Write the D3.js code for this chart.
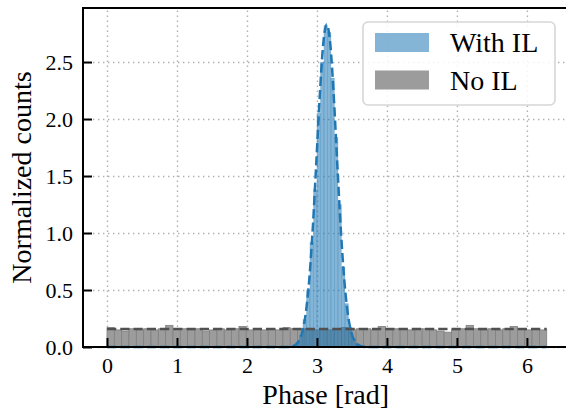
<!DOCTYPE html>
<meta charset="utf-8">
<script src="https://d3js.org/d3.v7.min.js"></script>
<style>
  body { margin: 0; background: #fff; }
  text { font-family: "Liberation Serif", serif; fill: #000; }
  .grid line { stroke: #b0b0b0; stroke-width: 1.4; stroke-dasharray: 1.4, 3.6; }
  .grid path { display: none; }
  .axis path { display: none; }
  .axis line { stroke: #000; stroke-width: 2; }
</style>
<body>
<div id="chart"></div>
<script>
// gray histogram ("No IL"), 60 bins over [0, 2pi]
var grayCounts = [
  0.17, 0.15, 0.14, 0.16, 0.15, 0.16, 0.15, 0.16, 0.19, 0.16,
  0.16, 0.15, 0.16, 0.14, 0.15, 0.16, 0.15, 0.16, 0.18, 0.15,
  0.16, 0.15, 0.16, 0.15, 0.17, 0.16, 0.15, 0.16, 0.15, 0.16,
  0.15, 0.16, 0.17, 0.15, 0.16, 0.16, 0.15, 0.18, 0.15, 0.16,
  0.16, 0.15, 0.16, 0.16, 0.15, 0.14, 0.13, 0.15, 0.16, 0.19,
  0.16, 0.15, 0.16, 0.15, 0.16, 0.18, 0.16, 0.15, 0.16, 0.15
];
var grayRange = [0, 2 * Math.PI];

// blue histogram ("With IL")
var blueStart = 2.70, blueWidth = 0.05;
var blueCounts = [0.04, 0.10, 0.24, 0.50, 0.92, 1.38, 2.05, 2.50, 2.82, 2.76,
                  2.36, 1.84, 1.25, 0.70, 0.38, 0.17, 0.07, 0.03];

// dashed curves
var uniformLevel = 0.159;
var curvePhase = [0, 2.59, 2.64, 2.69, 2.74, 2.79, 2.84, 2.89, 2.94, 2.99, 3.04, 3.09, 3.14,
                  3.19, 3.24, 3.29, 3.34, 3.39, 3.44, 3.49, 3.54, 3.59, 3.64, 3.69, 6.283];
var curveValue = [0, 0.001, 0.005, 0.017, 0.051, 0.130, 0.295, 0.59, 1.04, 1.61, 2.20, 2.66, 2.83,
                  2.66, 2.20, 1.61, 1.04, 0.59, 0.295, 0.130, 0.051, 0.017, 0.005, 0.001, 0];

var xTicks = [0, 1, 2, 3, 4, 5, 6];
var yTicks = [0, 0.5, 1.0, 1.5, 2.0, 2.5];

var W = 566, H = 412;
var pL = 83, pR = 571, pT = 8, pB = 347;

var svg = d3.select("#chart").append("svg")
  .attr("width", W).attr("height", H);

var x = d3.scaleLinear().domain([-0.343, 6.63]).range([pL, pR]);
var y = d3.scaleLinear().domain([0, 2.974]).range([pB, pT]);

// grid
svg.append("g").attr("class", "grid")
  .attr("transform", "translate(0," + pB + ")")
  .call(d3.axisBottom(x).tickValues(xTicks).tickSize(-(pB - pT)).tickFormat(""));
svg.append("g").attr("class", "grid")
  .attr("transform", "translate(" + pL + ",0)")
  .call(d3.axisLeft(y).tickValues(yTicks).tickSize(-(pR - pL)).tickFormat(""));

// gray bars
var gw = (grayRange[1] - grayRange[0]) / grayCounts.length;
svg.append("g").selectAll("rect")
  .data(grayCounts)
  .enter().append("rect")
  .attr("x", function(d, i) { return x(grayRange[0] + i * gw); })
  .attr("width", function(d, i) { return x(grayRange[0] + (i + 1) * gw) - x(grayRange[0] + i * gw); })
  .attr("y", function(d) { return y(d); })
  .attr("height", function(d) { return pB - y(d); })
  .attr("fill", "#9c9c9c")
  .attr("stroke", "#808080")
  .attr("stroke-width", 0.8);

// blue bars
svg.append("g").selectAll("rect")
  .data(blueCounts)
  .enter().append("rect")
  .attr("x", function(d, i) { return x(blueStart + i * blueWidth); })
  .attr("width", function(d, i) { return x(blueStart + (i + 1) * blueWidth) - x(blueStart + i * blueWidth); })
  .attr("y", function(d) { return y(d); })
  .attr("height", function(d) { return pB - y(d); })
  .attr("fill", "#1f77b4")
  .attr("fill-opacity", 0.55)
  .attr("stroke", "#1f77b4")
  .attr("stroke-opacity", 0.35)
  .attr("stroke-width", 0.5);

// uniform dashed line
svg.append("path")
  .datum(grayRange)
  .attr("d", d3.line().x(function(d) { return x(d); }).y(function() { return y(uniformLevel); }))
  .attr("fill", "none")
  .attr("stroke", "#505050")
  .attr("stroke-width", 2.5)
  .attr("stroke-dasharray", "9.25,4");

// peak dashed curve
var pts = curvePhase.map(function(p, i) { return [p, curveValue[i]]; });
svg.append("path")
  .datum(pts)
  .attr("d", d3.line().x(function(d) { return x(d[0]); }).y(function(d) { return y(d[1]); })
    .curve(d3.curveMonotoneX))
  .attr("fill", "none")
  .attr("stroke", "#1f77b4")
  .attr("stroke-width", 2.5)
  .attr("stroke-dasharray", "9.25,4");

// axes (inward ticks)
var xa = svg.append("g").attr("class", "axis")
  .attr("transform", "translate(0," + pB + ")")
  .call(d3.axisBottom(x).tickValues(xTicks).tickSizeInner(-9).tickSizeOuter(0).tickPadding(10)
    .tickFormat(d3.format("d")));
xa.selectAll("text").style("font-size", "22px").style("font-family", "Liberation Serif").attr("fill", "#000");

var ya = svg.append("g").attr("class", "axis")
  .attr("transform", "translate(" + pL + ",0)")
  .call(d3.axisLeft(y).tickValues(yTicks).tickSizeInner(-9).tickSizeOuter(0).tickPadding(10)
    .tickFormat(d3.format(".1f")));
ya.selectAll("text").style("font-size", "22px").style("font-family", "Liberation Serif").attr("fill", "#000");

// spines
svg.append("rect")
  .attr("x", pL).attr("y", pT)
  .attr("width", pR - pL).attr("height", pB - pT)
  .attr("fill", "none").attr("stroke", "#000").attr("stroke-width", 2);

// axis labels
svg.append("text")
  .attr("x", x(3.125)).attr("y", 404)
  .attr("text-anchor", "middle")
  .style("font-size", "28px")
  .text("Phase [rad]");
svg.append("text")
  .attr("transform", "translate(31," + ((pT + pB) / 2) + ") rotate(-90)")
  .attr("text-anchor", "middle")
  .style("font-size", "28px")
  .text("Normalized counts");

// legend
var lg = svg.append("g");
lg.append("rect")
  .attr("x", 363).attr("y", 22).attr("width", 192).attr("height", 83)
  .attr("rx", 5).attr("fill", "#fff").attr("fill-opacity", 0.85)
  .attr("stroke", "#d6d6d6").attr("stroke-width", 1.6);
var legendItems = [
  { label: "With IL", color: "#1f77b4", opacity: 0.55 },
  { label: "No IL", color: "#9c9c9c", opacity: 1 }
];
legendItems.forEach(function(it, i) {
  lg.append("rect")
    .attr("x", 375).attr("y", 33 + i * 37.5).attr("width", 54).attr("height", 19)
    .attr("fill", it.color).attr("fill-opacity", it.opacity);
  lg.append("text")
    .attr("x", 450).attr("y", 52 + i * 37.5)
    .style("font-size", "28px")
    .text(it.label);
});
</script>
</body>
